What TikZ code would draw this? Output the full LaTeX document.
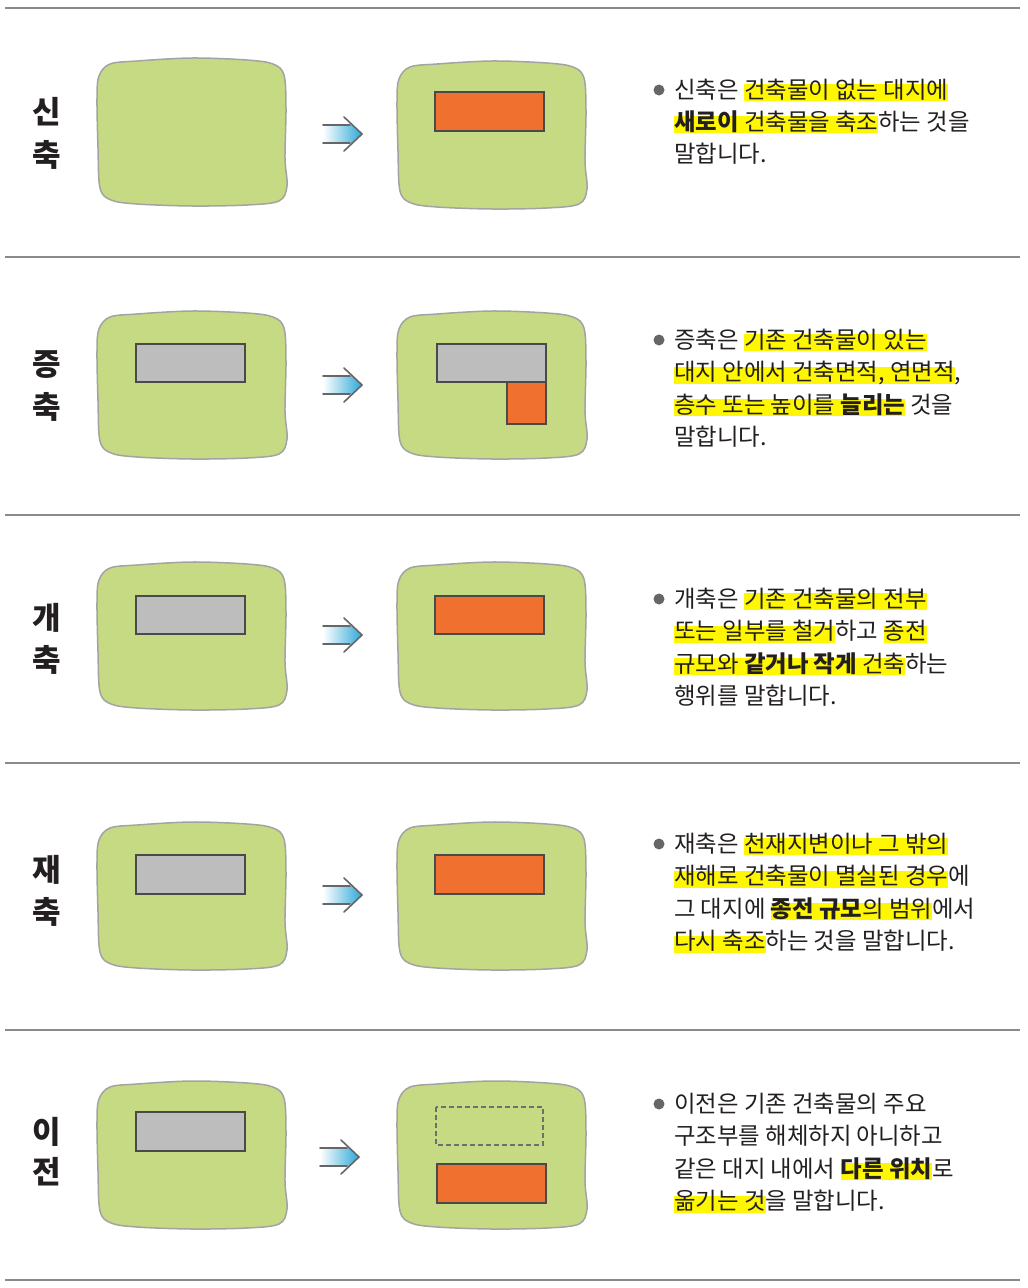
\documentclass[tikz,border=0pt]{standalone}
\usepackage{fontspec}
\setmainfont{Noto Sans CJK KR}
\definecolor{lot}{HTML}{C5DA82}
\definecolor{lotline}{HTML}{A3A3A3}
\definecolor{bldg}{HTML}{BDBDBD}
\definecolor{newb}{HTML}{F07030}
\definecolor{edge}{HTML}{4A4A4A}
\definecolor{hly}{HTML}{FFF700}
\definecolor{ink}{HTML}{231F20}
\definecolor{arrowblue}{HTML}{2EA8D8}
\definecolor{rulegray}{HTML}{8A8A8A}
\newsavebox\hlbox
\newcommand\hlt[1]{\sbox\hlbox{#1}\rlap{\textcolor{hly}{\rule[-0.14em]{\wd\hlbox}{0.72em}}}\usebox\hlbox}
\tikzset{
  lotstyle/.style={fill=lot,draw=lotline,line width=1.5pt},
  oldb/.style={fill=bldg,draw=edge,line width=1.2pt},
  newbs/.style={fill=newb,draw=edge,line width=1.2pt},
  ghost/.style={draw=edge!80,dashed,dash pattern=on 5pt off 3pt,line width=1.6pt},
  divider/.style={draw=rulegray,line width=1.5pt},
  txt/.style={anchor=base west,inner sep=0pt,text=ink,font=\fontsize{23.4}{28}\selectfont},
  lbl/.style={anchor=center,inner sep=0pt,text=ink,font=\fontsize{31}{31}\selectfont\bfseries},
  bul/.style={circle,fill=black!60,inner sep=0pt,minimum size=11pt},
  arrline/.style={draw=black!60,line width=1.6pt,line cap=round,line join=miter}
}
\newcommand\lotblob[2]{%
  \begin{scope}[shift={(#1,#2)}]
    \filldraw[lotstyle] plot[smooth cycle,tension=0.55] coordinates {
      (0,40) (2,18) (13,6) (40,3) (95,0) (150,2) (176,6) (187,17) (189,50)
      (188,100) (190,128) (182,143) (150,147) (95,148) (40,146) (14,142) (3,130) (1,90)};
  \end{scope}}
\newcommand\goarrow[2]{%
  \begin{scope}[shift={(#1,#2)}]
    \shade[left color=white,right color=arrowblue] (0,-9) -- (29,-9) -- (39,0) -- (29,9) -- (0,9) -- cycle;
    \draw[arrline] (0,-9) -- (27,-9);
    \draw[arrline] (0,9) -- (27,9);
    \draw[arrline] (21,-17) -- (39,0) -- (21,17);
  \end{scope}}
\begin{document}
\begin{tikzpicture}[x=1pt,y=-1pt]
\useasboundingbox (0,0) rectangle (1028,1288);
% dividers
\foreach \yy in {8,257,515,763,1030,1280} \draw[divider] (5,\yy) -- (1020,\yy);

% ---------- section 1 ----------
\node[lbl] (s1a) at (47,112) {신};
\node[lbl] (s1b) at (47,155) {축};
\lotblob{97}{58}
\lotblob{397}{61}
\draw[newbs] (435,92) rectangle (544,131);
\goarrow{323}{134}
\node[bul] (b1) at (659,90) {};
\node[txt] (t1a) at (674,98) {신축은 \hlt{건축물이 없는 대지에}};
\node[txt] (t1b) at (674,130) {\hlt{\textbf{새로이} 건축물을 축조}하는 것을};
\node[txt] (t1c) at (674,162) {말합니다.};

% ---------- section 2 ----------
\node[lbl] (s2a) at (47,365) {증};
\node[lbl] (s2b) at (47,407) {축};
\lotblob{97}{311}
\lotblob{397}{311}
\draw[oldb] (136,344) rectangle (245,382);
\draw[oldb] (437,344) rectangle (546,382);
\draw[newbs] (507,382) rectangle (546,424);
\goarrow{323}{385}
\node[bul] (b2) at (659,340) {};
\node[txt] (t2a) at (674,348) {증축은 \hlt{기존 건축물이 있는}};
\node[txt] (t2b) at (674,380.5) {\hlt{대지 안에서 건축면적, 연면적},};
\node[txt] (t2c) at (674,413) {\hlt{층수 또는 높이를 \textbf{늘리는}} 것을};
\node[txt] (t2d) at (674,445.5) {말합니다.};

% ---------- section 3 ----------
\node[lbl] (s3a) at (47,618) {개};
\node[lbl] (s3b) at (47,660) {축};
\lotblob{97}{562}
\lotblob{397}{562}
\draw[oldb] (136,596) rectangle (245,634);
\draw[newbs] (435,596) rectangle (544,634);
\goarrow{323}{635}
\node[bul] (b3) at (659,599) {};
\node[txt] (t3a) at (674,607) {개축은 \hlt{기존 건축물의 전부}};
\node[txt] (t3b) at (674,639.5) {\hlt{또는 일부를 철거}하고 \hlt{종전}};
\node[txt] (t3c) at (674,672) {\hlt{규모와 \textbf{같거나 작게} 건축}하는};
\node[txt] (t3d) at (674,704.5) {행위를 말합니다.};

% ---------- section 4 ----------
\node[lbl] (s4a) at (47,870) {재};
\node[lbl] (s4b) at (47,912) {축};
\lotblob{97}{822}
\lotblob{397}{822}
\draw[oldb] (136,855) rectangle (245,894);
\draw[newbs] (435,855) rectangle (544,894);
\goarrow{323}{895}
\node[bul] (b4) at (659,844) {};
\node[txt] (t4a) at (674,852) {재축은 \hlt{천재지변이나 그 밖의}};
\node[txt] (t4b) at (674,884.5) {\hlt{재해로 건축물이 멸실된 경우}에};
\node[txt] (t4c) at (674,917) {그 대지에 \hlt{\textbf{종전 규모}의 범위}에서};
\node[txt] (t4d) at (674,949.5) {\hlt{다시 축조}하는 것을 말합니다.};

% ---------- section 5 ----------
\node[lbl] (s5a) at (47,1132) {이};
\node[lbl] (s5b) at (47,1172) {전};
\lotblob{97}{1081}
\lotblob{397}{1081}
\draw[oldb] (136,1112) rectangle (245,1151);
\draw[ghost] (436,1107) rectangle (543,1145);
\draw[newbs] (437,1164) rectangle (546,1203);
\goarrow{320}{1157}
\node[bul] (b5) at (659,1104) {};
\node[txt] (t5a) at (674,1112) {이전은 기존 건축물의 주요};
\node[txt] (t5b) at (674,1144.5) {구조부를 해체하지 아니하고};
\node[txt] (t5c) at (674,1177) {같은 대지 내에서 \hlt{\textbf{다른 위치}}로};
\node[txt] (t5d) at (674,1209.5) {\hlt{옮기는 것}을 말합니다.};
\end{tikzpicture}
\end{document}
